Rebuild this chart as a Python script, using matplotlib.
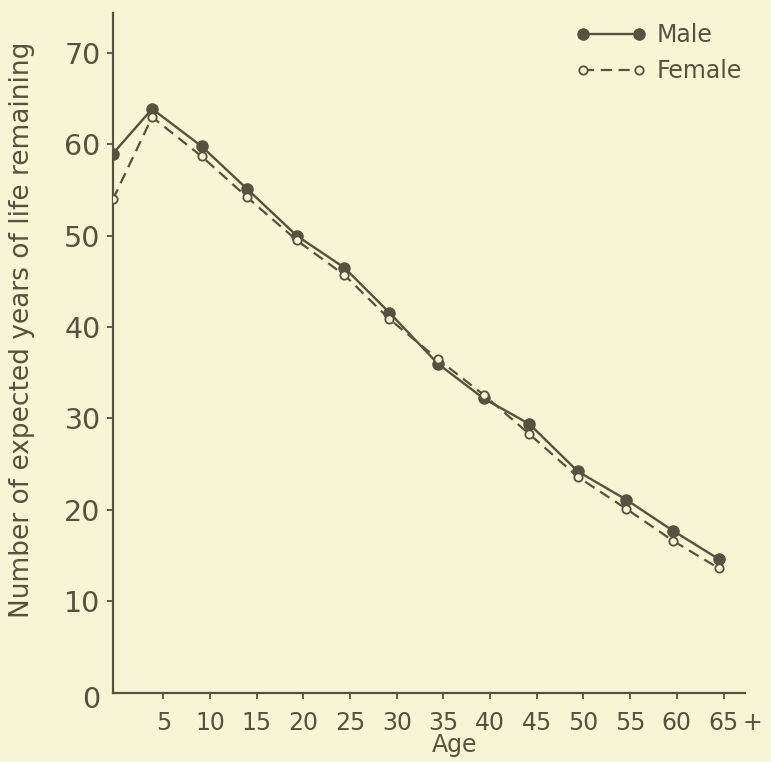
import matplotlib
matplotlib.use('Agg')
import matplotlib.pyplot as plt
import matplotlib.transforms as mtransforms
from matplotlib.legend_handler import HandlerLine2D

# Values
age_pos = [-0.4, 3.8, 9.1, 14.0, 19.3, 24.4, 29.2, 34.4, 39.3, 44.2, 49.4, 54.6, 59.6, 64.5]
male = [59.0, 63.9, 59.8, 55.1, 50.0, 46.5, 41.6, 36.0, 32.2, 29.4, 24.2, 21.1, 17.7, 14.6]
female = [54.0, 63.0, 58.7, 54.2, 49.5, 45.7, 40.9, 36.5, 32.6, 28.3, 23.6, 20.1, 16.6, 13.6]

x_ticks = [5, 10, 15, 20, 25, 30, 35, 40, 45, 50, 55, 60, 65]
x_tick_labels = ['5', '10', '15', '20', '25', '30', '35', '40', '45', '50', '55', '60', '65']
y_ticks = [0, 10, 20, 30, 40, 50, 60, 70]

bg = '#f8f4d6'
ink = '#57523f'

plt.rcParams['font.family'] = ['DejaVu Sans']

fig = plt.figure(figsize=(7.71, 7.62), dpi=100)
fig.patch.set_facecolor(bg)
ax = fig.add_axes([0.1466, 0.0912, 0.8197, 0.8918])
ax.set_facecolor(bg)

male_line, = ax.plot(age_pos, male, color=ink, lw=1.7, marker='o', markersize=8,
                     markerfacecolor=ink, markeredgecolor=ink, label='Male', zorder=3)
female_line, = ax.plot(age_pos, female, color=ink, lw=1.6, dashes=(5, 3), marker='o',
                       markersize=6, markerfacecolor=bg, markeredgecolor=ink,
                       markeredgewidth=1.3, label='Female', zorder=4)

ax.set_xlim(-0.39, 67.3)
ax.set_ylim(0, 74.4)

for side in ['top', 'right']:
    ax.spines[side].set_visible(False)
for side in ['left', 'bottom']:
    ax.spines[side].set_color(ink)
    ax.spines[side].set_linewidth(1.6)

ax.set_xticks(x_ticks)
ax.set_xticklabels(x_tick_labels)
ax.set_yticks(y_ticks)
ax.tick_params(axis='x', colors=ink, length=4.5, width=1.3, pad=9, labelsize=17)
ax.tick_params(axis='y', colors=ink, length=4, width=1.3, pad=5, labelsize=20.5)
ax.yaxis.get_major_ticks()[0].tick1line.set_visible(False)
# the "0" sits a little below the corner
zero_lbl = ax.get_yticklabels()[0]
zero_lbl.set_transform(zero_lbl.get_transform() +
                       mtransforms.ScaledTranslation(0, -4 / 100, fig.dpi_scale_trans))

# the "+" after the last age group
ax.annotate('+', xy=(65, 0), xycoords=('data', 'axes fraction'),
            xytext=(14, -13.5), textcoords='offset points',
            ha='left', va='top', fontsize=17, color=ink)

ax.set_xlabel('Age', fontsize=17, color=ink, labelpad=0)
ax.xaxis.set_label_coords(0.541, -0.059)
fig.text(22 / 771, 1 - 330 / 762, 'Number of expected years of life remaining',
         rotation=90, ha='center', va='center', fontsize=19, color=ink)

leg = ax.legend(loc='upper left', bbox_to_anchor=(583 / 771, 1 - 23 / 762),
                bbox_transform=fig.transFigure, frameon=False, fontsize=17,
                handlelength=2.37, handletextpad=0.76, labelspacing=0.5,
                borderpad=0, borderaxespad=0, numpoints=2,
                handler_map={male_line: HandlerLine2D(marker_pad=0),
                             female_line: HandlerLine2D(marker_pad=0)})
for t in leg.get_texts():
    t.set_color(ink)

fig.savefig('out.png', dpi=100, facecolor=bg)
